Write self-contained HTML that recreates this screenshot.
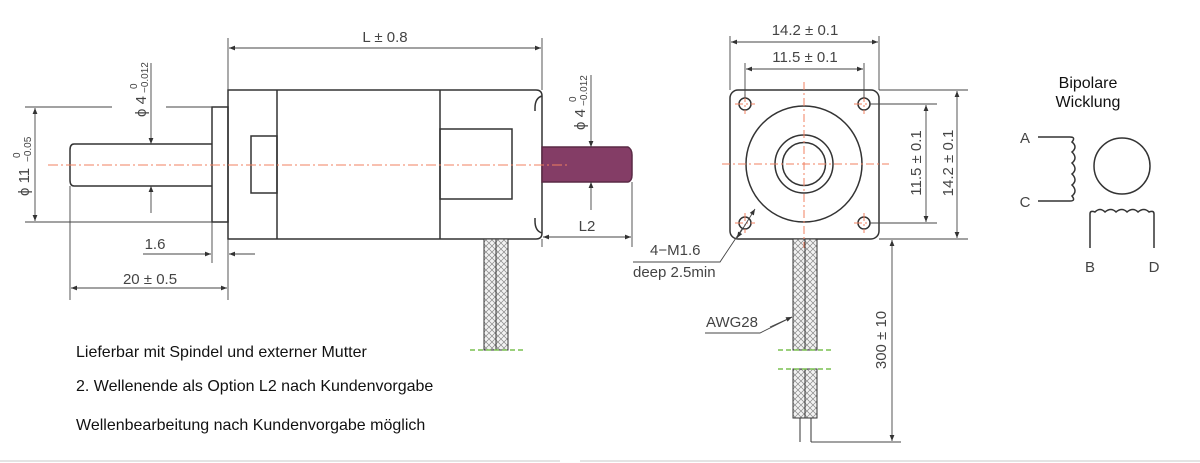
<!DOCTYPE html>
<html><head><meta charset="utf-8"><style>
html,body{margin:0;padding:0;background:#fff;}
svg{display:block;font-family:"Liberation Sans",Arial,sans-serif;}
</style></head><body>
<svg width="1200" height="463" viewBox="0 0 1200 463" xmlns="http://www.w3.org/2000/svg">
<defs>
<marker id="a" viewBox="0 0 10 10" refX="10" refY="5" markerWidth="10" markerHeight="6" orient="auto-start-reverse" markerUnits="userSpaceOnUse"><path d="M0,1 L10,5 L0,9 z" fill="#333"/></marker>
<pattern id="h" width="6" height="6" patternUnits="userSpaceOnUse"><rect width="6" height="6" fill="#f2f2f2"/><path d="M0,0 L6,6 M6,0 L0,6" stroke="#888" stroke-width="0.7"/></pattern>
</defs>
<g stroke="#333" stroke-width="1.5" fill="none">
<path d="M228,90 H536 Q542,90 542,96 V233 Q542,239 536,239 H228 Z"/>
<line x1="277" y1="90" x2="277" y2="239"/>
<line x1="440" y1="90" x2="440" y2="239"/>
<path d="M542,96 Q535,98 535,108 V111"/>
<path d="M542,233 Q535,231 535,221 V218"/>
<rect x="251" y="136" width="26" height="57"/>
<rect x="440" y="129" width="72" height="70"/>
<rect x="212" y="107" width="16" height="115"/>
<path d="M212,144 H74 Q70,144 70,150 V180 Q70,186 74,186 H212"/>
<path d="M542,147 H628 Q632,149 632,155 V175 Q632,181 628,182 H542 Z" fill="#843d66" stroke="#5a2a45"/>
<rect x="484" y="239" width="12" height="111" fill="url(#h)" stroke-width="1"/>
<rect x="496" y="239" width="12" height="111" fill="url(#h)" stroke-width="1"/>
</g>
<line x1="48" y1="165" x2="570" y2="165" stroke="#f08060" stroke-width="1" stroke-dasharray="10,3,2,3"/>
<line x1="470" y1="350" x2="526" y2="350" stroke="#7ac050" stroke-width="1.5" stroke-dasharray="5,3"/>
<g stroke="#444" stroke-width="0.9" fill="none">
<line x1="228" y1="38" x2="228" y2="90"/><line x1="542" y1="38" x2="542" y2="90"/>
<line x1="229" y1="48" x2="541" y2="48" marker-start="url(#a)" marker-end="url(#a)"/>
<line x1="25" y1="107" x2="112" y2="107"/><line x1="25" y1="222" x2="212" y2="222"/>
<line x1="35" y1="108" x2="35" y2="221" marker-start="url(#a)" marker-end="url(#a)"/>
<line x1="166" y1="107" x2="212" y2="107"/>
<line x1="151" y1="63" x2="151" y2="144" marker-end="url(#a)"/>
<line x1="151" y1="213" x2="151" y2="186" marker-end="url(#a)"/>
<line x1="591" y1="75" x2="591" y2="147" marker-end="url(#a)"/>
<line x1="591" y1="210" x2="591" y2="182" marker-end="url(#a)"/>
<line x1="542" y1="239" x2="542" y2="247"/><line x1="632" y1="182" x2="632" y2="247"/>
<line x1="543" y1="237" x2="631" y2="237" marker-start="url(#a)" marker-end="url(#a)"/>
<line x1="212" y1="222" x2="212" y2="263"/><line x1="228" y1="239" x2="228" y2="300"/>
<line x1="143" y1="254" x2="211" y2="254" marker-end="url(#a)"/>
<line x1="255" y1="254" x2="229" y2="254" marker-end="url(#a)"/>
<line x1="70" y1="186" x2="70" y2="300"/>
<line x1="71" y1="288" x2="227" y2="288" marker-start="url(#a)" marker-end="url(#a)"/>
</g>
<g fill="#444" font-size="15">
<text x="385" y="42" text-anchor="middle">L ± 0.8</text>
<text x="587" y="231" text-anchor="middle">L2</text>
<text x="155" y="249" text-anchor="middle">1.6</text>
<text x="150" y="284" text-anchor="middle">20 ± 0.5</text>
<g transform="translate(29,196) rotate(-90)"><text x="0" y="0">ϕ 11</text><text x="38" y="-9" font-size="10">0</text><text x="34" y="2" font-size="10">−0.05</text></g>
<g transform="translate(146,117) rotate(-90)"><text x="0" y="0">ϕ 4</text><text x="28" y="-9" font-size="10">0</text><text x="24" y="2" font-size="10">−0.012</text></g>
<g transform="translate(585,130) rotate(-90)"><text x="0" y="0">ϕ 4</text><text x="28" y="-9" font-size="10">0</text><text x="24" y="2" font-size="10">−0.012</text></g>
</g>
<g fill="#111" font-size="16">
<text x="76" y="357">Lieferbar mit Spindel und externer Mutter</text>
<text x="76" y="391">2. Wellenende als Option L2 nach Kundenvorgabe</text>
<text x="76" y="430">Wellenbearbeitung nach Kundenvorgabe möglich</text>
</g>

<g stroke="#333" stroke-width="1.5" fill="none">
<rect x="730" y="90" width="149" height="149" rx="8"/>
<circle cx="745" cy="104" r="6"/><circle cx="864" cy="104" r="6"/>
<circle cx="745" cy="223" r="6"/><circle cx="864" cy="223" r="6"/>
<circle cx="804" cy="164" r="58"/>
<circle cx="804" cy="164" r="29"/>
<circle cx="804" cy="164" r="21.5"/>
<rect x="793" y="239" width="12" height="111" fill="url(#h)" stroke-width="1"/>
<rect x="805" y="239" width="12" height="111" fill="url(#h)" stroke-width="1"/>
<rect x="793" y="369" width="12" height="49" fill="url(#h)" stroke-width="1"/>
<rect x="805" y="369" width="12" height="49" fill="url(#h)" stroke-width="1"/>
<line x1="800" y1="418" x2="800" y2="442" stroke-width="1"/>
<line x1="811" y1="418" x2="811" y2="442" stroke-width="1"/>
</g>
<g stroke="#f08060" stroke-width="1" stroke-dasharray="8,3,2,3">
<line x1="722" y1="164" x2="889" y2="164"/><line x1="804" y1="82" x2="804" y2="248"/>
<line x1="735" y1="104" x2="755" y2="104"/><line x1="745" y1="94" x2="745" y2="114"/>
<line x1="854" y1="104" x2="874" y2="104"/><line x1="864" y1="94" x2="864" y2="114"/>
<line x1="735" y1="223" x2="755" y2="223"/><line x1="745" y1="213" x2="745" y2="233"/>
<line x1="854" y1="223" x2="874" y2="223"/><line x1="864" y1="213" x2="864" y2="233"/>
</g>
<line x1="778" y1="350" x2="834" y2="350" stroke="#7ac050" stroke-width="1.5" stroke-dasharray="5,3"/>
<line x1="778" y1="369" x2="834" y2="369" stroke="#7ac050" stroke-width="1.5" stroke-dasharray="5,3"/>
<g stroke="#444" stroke-width="0.9" fill="none">
<line x1="730" y1="36" x2="730" y2="90"/><line x1="879" y1="36" x2="879" y2="90"/>
<line x1="731" y1="42" x2="878" y2="42" marker-start="url(#a)" marker-end="url(#a)"/>
<line x1="745" y1="63" x2="745" y2="98"/><line x1="864" y1="63" x2="864" y2="98"/>
<line x1="746" y1="69" x2="863" y2="69" marker-start="url(#a)" marker-end="url(#a)"/>
<line x1="870" y1="104" x2="937" y2="104"/><line x1="870" y1="223" x2="937" y2="223"/>
<line x1="926" y1="105" x2="926" y2="222" marker-start="url(#a)" marker-end="url(#a)"/>
<line x1="879" y1="90" x2="968" y2="90"/><line x1="879" y1="239" x2="968" y2="239"/>
<line x1="957" y1="91" x2="957" y2="238" marker-start="url(#a)" marker-end="url(#a)"/>
<line x1="892" y1="240" x2="892" y2="441" marker-start="url(#a)" marker-end="url(#a)"/>
<line x1="811" y1="442" x2="901" y2="442"/>
<polyline points="633,262 720,262 742,229"/>
<line x1="737" y1="238" x2="755" y2="209" marker-start="url(#a)" marker-end="url(#a)"/>
<polyline points="705,333 760,333 792,317" />
<line x1="770" y1="327" x2="792" y2="317" marker-end="url(#a)"/>
</g>
<g fill="#444" font-size="15">
<text x="805" y="35" text-anchor="middle">14.2 ± 0.1</text>
<text x="805" y="62" text-anchor="middle">11.5 ± 0.1</text>
<text transform="translate(921,163) rotate(-90)" text-anchor="middle">11.5 ± 0.1</text>
<text transform="translate(953,163) rotate(-90)" text-anchor="middle">14.2 ± 0.1</text>
<text transform="translate(886,340) rotate(-90)" text-anchor="middle">300 ± 10</text>
<text x="650" y="255">4−M1.6</text>
<text x="633" y="277">deep 2.5min</text>
<text x="706" y="327">AWG28</text>
</g>

<g fill="#111" font-size="16" text-anchor="middle">
<text x="1088" y="88">Bipolare</text>
<text x="1088" y="107">Wicklung</text>
</g>
<g fill="#444" font-size="15" text-anchor="middle">
<text x="1025" y="143">A</text>
<text x="1025" y="207">C</text>
<text x="1090" y="272">B</text>
<text x="1154" y="272">D</text>
</g>
<g stroke="#333" stroke-width="1.5" fill="none">
<path d="M1038,137 H1070 Q1076,137 1072,142 Q1078,147 1072,152 Q1078,158 1072,163 Q1078,169 1072,174 Q1078,180 1072,185 Q1078,191 1072,196 Q1076,201 1070,201 H1038"/>
<circle cx="1122" cy="166" r="28"/>
<path d="M1090,248 V214 Q1090,210 1095,212 Q1100,207 1105,212 Q1111,207 1116,212 Q1122,207 1127,212 Q1133,207 1138,212 Q1144,207 1149,212 Q1154,210 1154,214 V248"/>
</g>
<line x1="0" y1="461" x2="560" y2="461" stroke="#e4e4e4" stroke-width="2"/>
<line x1="580" y1="461" x2="1200" y2="461" stroke="#e4e4e4" stroke-width="2"/>
</svg>
</body></html>
